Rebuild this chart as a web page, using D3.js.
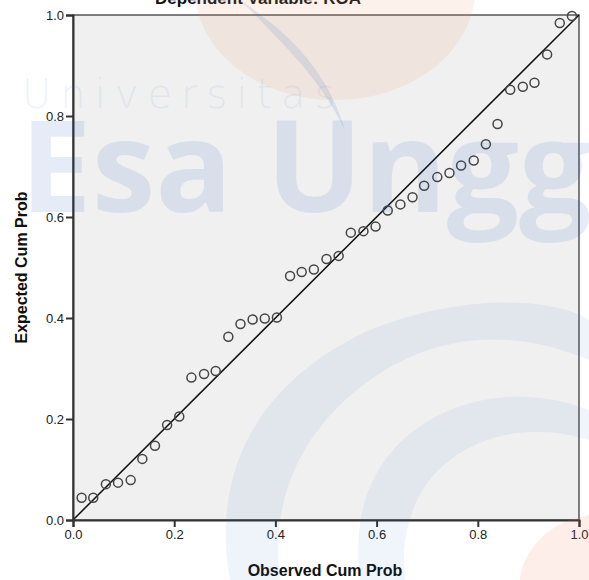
<!DOCTYPE html>
<html>
<head>
<meta charset="utf-8">
<script src="https://cdn.jsdelivr.net/npm/d3@7"></script>
<style>
  body { margin: 0; background: #fff; }
  svg { display: block; font-family: "Liberation Sans", Arial, sans-serif; }
</style>
</head>
<body>
<svg id="chart" width="589" height="580"></svg>
<script>
// Observed / expected cumulative probabilities
var observed = [0.017, 0.040, 0.065, 0.089, 0.114, 0.137, 0.162, 0.186, 0.210, 0.234,
    0.259, 0.282, 0.307, 0.331, 0.355, 0.379, 0.403, 0.429, 0.452, 0.476,
    0.501, 0.525, 0.549, 0.574, 0.598, 0.622, 0.647, 0.671, 0.694, 0.720,
    0.744, 0.767, 0.792, 0.816, 0.839, 0.864, 0.889, 0.912, 0.937, 0.962, 0.986];
var expected = [0.044, 0.044, 0.071, 0.074, 0.079, 0.121, 0.147, 0.188, 0.205, 0.282,
    0.289, 0.295, 0.363, 0.388, 0.397, 0.399, 0.401, 0.483, 0.491, 0.496,
    0.517, 0.523, 0.569, 0.572, 0.581, 0.613, 0.625, 0.639, 0.662, 0.679,
    0.687, 0.702, 0.712, 0.744, 0.784, 0.852, 0.858, 0.866, 0.922, 0.984, 0.998];
var tickValues = [0, 0.2, 0.4, 0.6, 0.8, 1.0];
var titleText = "Dependent Variable: ROA";
var xLabel = "Observed Cum Prob";
var yLabel = "Expected Cum Prob";

var svg = d3.select("#chart");
var margin = { top: 15, left: 73, right: 10, bottom: 60 };
var width = +svg.attr("width") - margin.left - margin.right,
    height = +svg.attr("height") - margin.top - margin.bottom;

var xScale = d3.scaleLinear().domain([0, 1]).range([0, width]);
var yScale = d3.scaleLinear().domain([0, 1]).range([height, 0]);

var g = svg.append("g")
    .attr("transform", "translate(" + margin.left + "," + margin.top + ")");

// plot background
g.append("rect")
    .attr("width", width)
    .attr("height", height)
    .attr("fill", "#f0f0f0")
    .attr("stroke", "#555")
    .attr("stroke-width", 1.5);

// reference diagonal
g.append("line")
    .attr("x1", xScale(0)).attr("y1", yScale(0))
    .attr("x2", xScale(1)).attr("y2", yScale(1))
    .attr("stroke", "#111")
    .attr("stroke-width", 1.5);

// points
g.append("g")
    .selectAll("circle")
    .data(observed)
    .enter()
    .append("circle")
    .attr("cx", function(d) { return xScale(d); })
    .attr("cy", function(d, i) { return yScale(expected[i]); })
    .attr("r", 4.5)
    .attr("fill", "none")
    .attr("stroke", "#444")
    .attr("stroke-width", 1.5);

var fmt = d3.format(".1f");

// x axis
var xAxis = g.append("g")
    .attr("transform", "translate(0," + height + ")")
    .call(d3.axisBottom(xScale).tickValues(tickValues).tickFormat(fmt).tickSize(7).tickPadding(3));

// y axis
var yAxis = g.append("g")
    .call(d3.axisLeft(yScale).tickValues(tickValues).tickFormat(fmt).tickSize(7).tickPadding(2));

[xAxis, yAxis].forEach(function(ax) {
    ax.select(".domain").attr("stroke", "#333").attr("stroke-width", 2);
    ax.selectAll(".tick line").attr("stroke", "#333").attr("stroke-width", 2);
    ax.selectAll(".tick text")
        .attr("fill", "#222")
        .style("font-size", "13px")
        .style("font-family", "'Liberation Sans', Arial, sans-serif");
});

// title (cut off at the top, as in the picture)
svg.append("text")
    .attr("x", 258)
    .attr("y", 4)
    .attr("text-anchor", "middle")
    .style("font-size", "17px")
    .style("font-weight", "bold")
    .attr("fill", "#111")
    .text(titleText);

// axis titles
svg.append("text")
    .attr("x", margin.left + width / 2 - 1)
    .attr("y", 576)
    .attr("text-anchor", "middle")
    .style("font-size", "16px")
    .style("font-weight", "bold")
    .attr("fill", "#111")
    .text(xLabel);

svg.append("text")
    .attr("transform", "translate(27," + (margin.top + height / 2) + ") rotate(-90)")
    .attr("text-anchor", "middle")
    .style("font-size", "16px")
    .style("font-weight", "bold")
    .attr("fill", "#111")
    .text(yLabel);

// faint watermark on top of everything
var wm = svg.append("g").style("pointer-events", "none");

wm.append("ellipse")
    .attr("cx", 335).attr("cy", -10)
    .attr("rx", 140).attr("ry", 110)
    .attr("fill", "#f0a070")
    .attr("opacity", 0.14);

wm.append("path")
    .attr("d", "M240,0 C300,40 330,80 345,130 C320,80 290,50 240,0 Z")
    .attr("fill", "#3060c0")
    .attr("opacity", 0.12);

wm.append("text")
    .attr("x", 22).attr("y", 108)
    .style("font-size", "40px")
    .style("letter-spacing", "9px")
    .style("font-family", "'DejaVu Sans', sans-serif")
    .style("font-weight", "200")
    .attr("fill", "#3070d0")
    .attr("opacity", 0.08)
    .text("Universitas");

wm.append("text")
    .attr("x", 20).attr("y", 212)
    .style("font-size", "128px")
    .style("font-weight", "bold")
    .style("font-family", "'Open Sans', 'Liberation Sans', sans-serif")
    .attr("fill", "#2a5cc0")
    .attr("opacity", 0.11)
    .text("Esa Unggul");

wm.append("path")
    .attr("d", "M230,580 C210,470 260,380 370,330 C470,290 560,300 589,320 L589,360 C520,330 440,330 370,380 C300,430 270,500 280,580 Z")
    .attr("fill", "#3060c0")
    .attr("opacity", 0.08);

wm.append("path")
    .attr("d", "M360,580 C350,500 380,440 450,410 C500,390 550,395 589,410 L589,440 C540,425 490,430 450,460 C410,490 400,540 405,580 Z")
    .attr("fill", "#3060c0")
    .attr("opacity", 0.07);

wm.append("path")
    .attr("d", "M520,580 C520,560 540,530 570,520 L589,515 L589,580 Z")
    .attr("fill", "#f07050")
    .attr("opacity", 0.12);
</script>
</body>
</html>
